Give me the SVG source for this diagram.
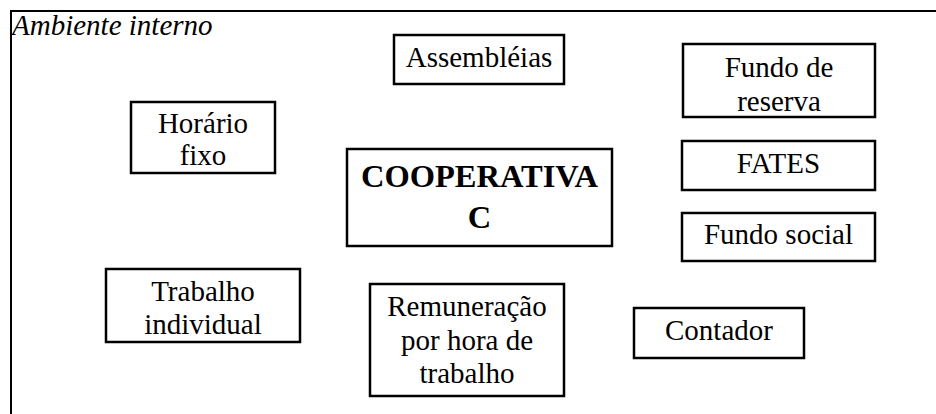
<svg xmlns="http://www.w3.org/2000/svg" width="936" height="414" viewBox="0 0 936 414">
<style>
.box{fill:#fff;stroke:#000;stroke-width:2.5}
.t{font-family:"Liberation Serif","Times New Roman",serif;font-size:29px;text-anchor:middle;fill:#000}
.b{font-weight:bold;font-size:32.5px}
.frame{fill:none;stroke:#000;stroke-width:2}
.lbl{font-family:"Liberation Serif","Times New Roman",serif;font-size:29px;font-style:italic;fill:#000}
</style>
<rect width="936" height="414" fill="#fff"/>
<g id="frame">
<path class="frame" d="M11,415 V11 H937"/>
<text class="lbl" x="12" y="35">Ambiente interno</text>
</g>
<g id="connectors"></g>
<g id="assembleias">
<rect class="box" x="394" y="35" width="170" height="49"/>
<text class="t" x="479" y="67">Assembléias</text>
</g>
<g id="fundo-reserva">
<rect class="box" x="683" y="44" width="192" height="73"/>
<text class="t" x="779" y="77">Fundo de</text>
<text class="t" x="779" y="111">reserva</text>
</g>
<g id="horario-fixo">
<rect class="box" x="131" y="102" width="144" height="71"/>
<text class="t" x="203" y="133">Horário</text>
<text class="t" x="203" y="165">fixo</text>
</g>
<g id="cooperativa">
<rect class="box" x="347" y="149" width="265" height="97"/>
<text class="t b" x="479.5" y="187">COOPERATIVA</text>
<text class="t b" x="479.5" y="228">C</text>
</g>
<g id="fates">
<rect class="box" x="682" y="141" width="193" height="49"/>
<text class="t" x="778.5" y="173">FATES</text>
</g>
<g id="fundo-social">
<rect class="box" x="682" y="213" width="193" height="48"/>
<text class="t" x="778.5" y="244">Fundo social</text>
</g>
<g id="trabalho-individual">
<rect class="box" x="106" y="269" width="194" height="73"/>
<text class="t" x="203" y="301">Trabalho</text>
<text class="t" x="203" y="334">individual</text>
</g>
<g id="remuneracao">
<rect class="box" x="370" y="284" width="194" height="112"/>
<text class="t" x="467" y="316">Remuneração</text>
<text class="t" x="467" y="350">por hora de</text>
<text class="t" x="467" y="383">trabalho</text>
</g>
<g id="contador">
<rect class="box" x="634" y="308" width="170" height="50"/>
<text class="t" x="719" y="340">Contador</text>
</g>
</svg>
